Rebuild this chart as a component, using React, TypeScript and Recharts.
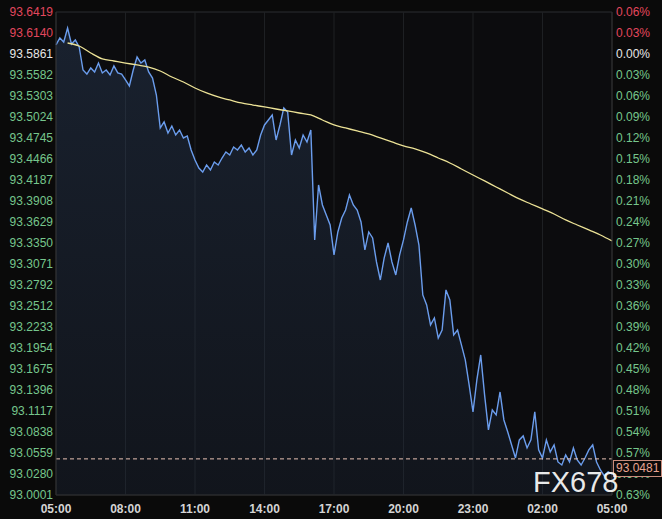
import React from "react";
import {
  ComposedChart,
  Area,
  Line,
  XAxis,
  YAxis,
  CartesianGrid,
  ReferenceLine,
} from "recharts";

// ---- data (10-minute steps from 05:00) ----
const priceValues: number[] = [
  93.5981, 93.6074, 93.602, 93.6206, 93.5994, 93.6047, 93.5954, 93.5648, 93.5595, 93.5675,
  93.5622, 93.5741, 93.5609, 93.5648, 93.5582, 93.5702, 93.5609, 93.5595, 93.5516, 93.5436,
  93.5648, 93.5821, 93.5741, 93.5781, 93.5622, 93.5542, 93.5316, 93.4878, 93.4958, 93.4811,
  93.4904, 93.4785, 93.4851, 93.4745, 93.4772, 93.4586, 93.4453, 93.4346, 93.4293, 93.4386,
  93.432, 93.4426, 93.4386, 93.4479, 93.4559, 93.4519, 93.4625, 93.4586, 93.4652, 93.4559,
  93.4612, 93.4519, 93.4586, 93.4785, 93.4918, 93.4984, 93.5051, 93.4718, 93.4918, 93.5144,
  93.509, 93.4519, 93.4718, 93.4612, 93.4785, 93.4692, 93.4851, 93.339, 93.4121, 93.3855,
  93.3722, 93.3589, 93.3191, 93.3496, 93.3682, 93.3788, 93.3988, 93.3855, 93.3788, 93.3629,
  93.3257, 93.3496, 93.3416, 93.3098, 93.2858, 93.3151, 93.335, 93.3098, 93.2925, 93.3191,
  93.339, 93.3629, 93.3815, 93.3589, 93.3323, 93.2659, 93.2526, 93.2261, 93.2354, 93.2088,
  93.2194, 93.2726, 93.2593, 93.2128, 93.2194, 93.1995, 93.1796, 93.1463, 93.1105, 93.153,
  93.1862, 93.1331, 93.0866, 93.1131, 93.1065, 93.137, 93.0998, 93.0839, 93.0666, 93.0493,
  93.0733, 93.0786, 93.0626, 93.0733, 93.1105, 93.06, 93.0493, 93.0733, 93.0573, 93.0666,
  93.044, 93.04, 93.0533, 93.044, 93.0626, 93.0467, 93.04, 93.0493, 93.06, 93.0666,
  93.044, 93.0334, 93.0255, 93.0307, 93.0281,
];

// moving average, 30-minute steps starting at 05:30
const maValues: number[] = [
  93.6007, 93.5967, 93.5874, 93.5795, 93.5768, 93.5741, 93.5715, 93.5688, 93.5635, 93.5555,
  93.5489, 93.5409, 93.5343, 93.529, 93.525, 93.521, 93.5183, 93.5157, 93.513, 93.5104,
  93.5077, 93.5051, 93.4984, 93.4918, 93.4878, 93.4838, 93.4798, 93.4745, 93.4692, 93.4639,
  93.4599, 93.4546, 93.4479, 93.4413, 93.4333, 93.4253, 93.4174, 93.4094, 93.4014, 93.3935,
  93.3868, 93.3802, 93.3735, 93.3656, 93.3589, 93.3523, 93.3456, 93.3377,
];

const priceTicks: number[] = [
  93.6419, 93.614, 93.5861, 93.5582, 93.5303, 93.5024, 93.4745, 93.4466, 93.4187, 93.3908,
  93.3629, 93.335, 93.3071, 93.2792, 93.2512, 93.2233, 93.1954, 93.1675, 93.1396, 93.1117,
  93.0838, 93.0559, 93.028, 93.0001,
];
const priceTickLabels: string[] = [
  "93.6419", "93.6140", "93.5861", "93.5582", "93.5303", "93.5024", "93.4745", "93.4466",
  "93.4187", "93.3908", "93.3629", "93.3350", "93.3071", "93.2792", "93.2512", "93.2233",
  "93.1954", "93.1675", "93.1396", "93.1117", "93.0838", "93.0559", "93.0280", "93.0001",
];
const percentTickLabels: string[] = [
  "0.06%", "0.03%", "0.00%", "0.03%", "0.06%", "0.09%", "0.12%", "0.15%", "0.18%", "0.21%",
  "0.24%", "0.27%", "0.30%", "0.33%", "0.36%", "0.39%", "0.42%", "0.45%", "0.48%", "0.51%",
  "0.54%", "0.57%", "0.60%", "0.63%",
];
const timeTicks: number[] = [0, 180, 360, 540, 720, 900, 1080, 1260, 1440];
const timeLabels: string[] = ["05:00", "08:00", "11:00", "14:00", "17:00", "20:00", "23:00", "02:00", "05:00"];

const basePrice = 93.5861;
const lastPrice = 93.0481;

const data = priceValues.map((p, i) => {
  const row: { t: number; price: number; ma?: number } = { t: i * 10, price: p };
  if (i % 3 === 0 && i >= 3) row.ma = maValues[i / 3 - 1];
  return row;
});

const RED = "#e2475e";
const WHITE = "#e6e6e6";
const GREEN = "#76c68c";
const FONT = "Arial, 'Liberation Sans', sans-serif";

const tickColor = (v: number) => (v > basePrice + 1e-6 ? RED : Math.abs(v - basePrice) < 1e-6 ? WHITE : GREEN);

const LeftTick = (props: any) => {
  const { y, payload } = props;
  const idx = priceTicks.indexOf(payload.value);
  return (
    <text x={53} y={y} textAnchor="end" dominantBaseline="central" fontSize={12} fontFamily={FONT} fill={tickColor(payload.value)}>
      {idx >= 0 ? priceTickLabels[idx] : payload.value}
    </text>
  );
};

const RightTick = (props: any) => {
  const { y, payload } = props;
  const idx = priceTicks.indexOf(payload.value);
  return (
    <text x={616} y={y} textAnchor="start" dominantBaseline="central" fontSize={12} fontFamily={FONT} fill={tickColor(payload.value)}>
      {idx >= 0 ? percentTickLabels[idx] : ""}
    </text>
  );
};

const XTick = (props: any) => {
  const { x, y, payload } = props;
  const idx = timeTicks.indexOf(payload.value);
  return (
    <text x={x} y={y + 6} textAnchor="middle" dominantBaseline="central" fontSize={12} fontWeight="bold" fontFamily={FONT} fill="#d4d4d4">
      {idx >= 0 ? timeLabels[idx] : ""}
    </text>
  );
};

export default function App() {
  return (
    <div style={{ position: "absolute", left: 0, top: 0, width: 662, height: 519, background: "#0a0a0a" }}>
      <ComposedChart width={662} height={519} data={data} margin={{ top: 12, right: 0, bottom: 0, left: 0 }}>
        <defs>
          <linearGradient id="priceFill" x1="0" y1="0" x2="0" y2="1">
            <stop offset="0%" stopColor="#2f4566" stopOpacity={0.62} />
            <stop offset="100%" stopColor="#1e2a3d" stopOpacity={0.5} />
          </linearGradient>
        </defs>
        <CartesianGrid horizontal={true} vertical={false} stroke="#2a2c30" fill="#0c0c0e" />
        <CartesianGrid horizontal={false} vertical={true} stroke="#1e2023" />
        <XAxis
          dataKey="t"
          type="number"
          domain={[0, 1440]}
          ticks={timeTicks}
          tick={<XTick />}
          tickLine={false}
          axisLine={{ stroke: "#2a2a2a" }}
          height={24}
          interval={0}
        />
        <YAxis
          yAxisId="left"
          orientation="left"
          domain={[93.0001, 93.6419]}
          ticks={priceTicks}
          tick={<LeftTick />}
          tickLine={false}
          axisLine={{ stroke: "#333" }}
          width={56}
          interval={0}
          allowDataOverflow
        />
        <YAxis
          yAxisId="right"
          orientation="right"
          domain={[93.0001, 93.6419]}
          ticks={priceTicks}
          tick={<RightTick />}
          tickLine={false}
          axisLine={{ stroke: "#333" }}
          width={50}
          interval={0}
          allowDataOverflow
        />
        <Area
          yAxisId="left"
          type="linear"
          dataKey="price"
          stroke="#6b9ded"
          strokeWidth={1.4}
          fill="url(#priceFill)"
          isAnimationActive={false}
          dot={false}
          activeDot={false}
        />
        <Line
          yAxisId="left"
          type="monotone"
          dataKey="ma"
          stroke="#ece296"
          strokeWidth={1.3}
          dot={false}
          activeDot={false}
          connectNulls
          isAnimationActive={false}
        />
        <ReferenceLine
          yAxisId="left"
          y={lastPrice}
          stroke="#e8c2b4"
          strokeDasharray="4 3"
          strokeWidth={1}
        />
      </ComposedChart>
      <div
        style={{
          position: "absolute",
          left: 613,
          top: 460,
          width: 45,
          height: 15,
          border: "1px solid #c98c7c",
          background: "#0a0a0a",
          color: "#e8a592",
          fontFamily: FONT,
          fontSize: 12,
          lineHeight: "15px",
          paddingLeft: 2,
          pointerEvents: "none",
        }}
      >
        {lastPrice.toFixed(4)}
      </div>
      <div
        style={{
          position: "absolute",
          left: 533,
          top: 467,
          fontFamily: FONT,
          fontSize: 29,
          letterSpacing: 0,
          color: "rgba(255,255,255,0.92)",
          lineHeight: "30px",
          pointerEvents: "none",
        }}
      >
        FX678
      </div>
    </div>
  );
}
